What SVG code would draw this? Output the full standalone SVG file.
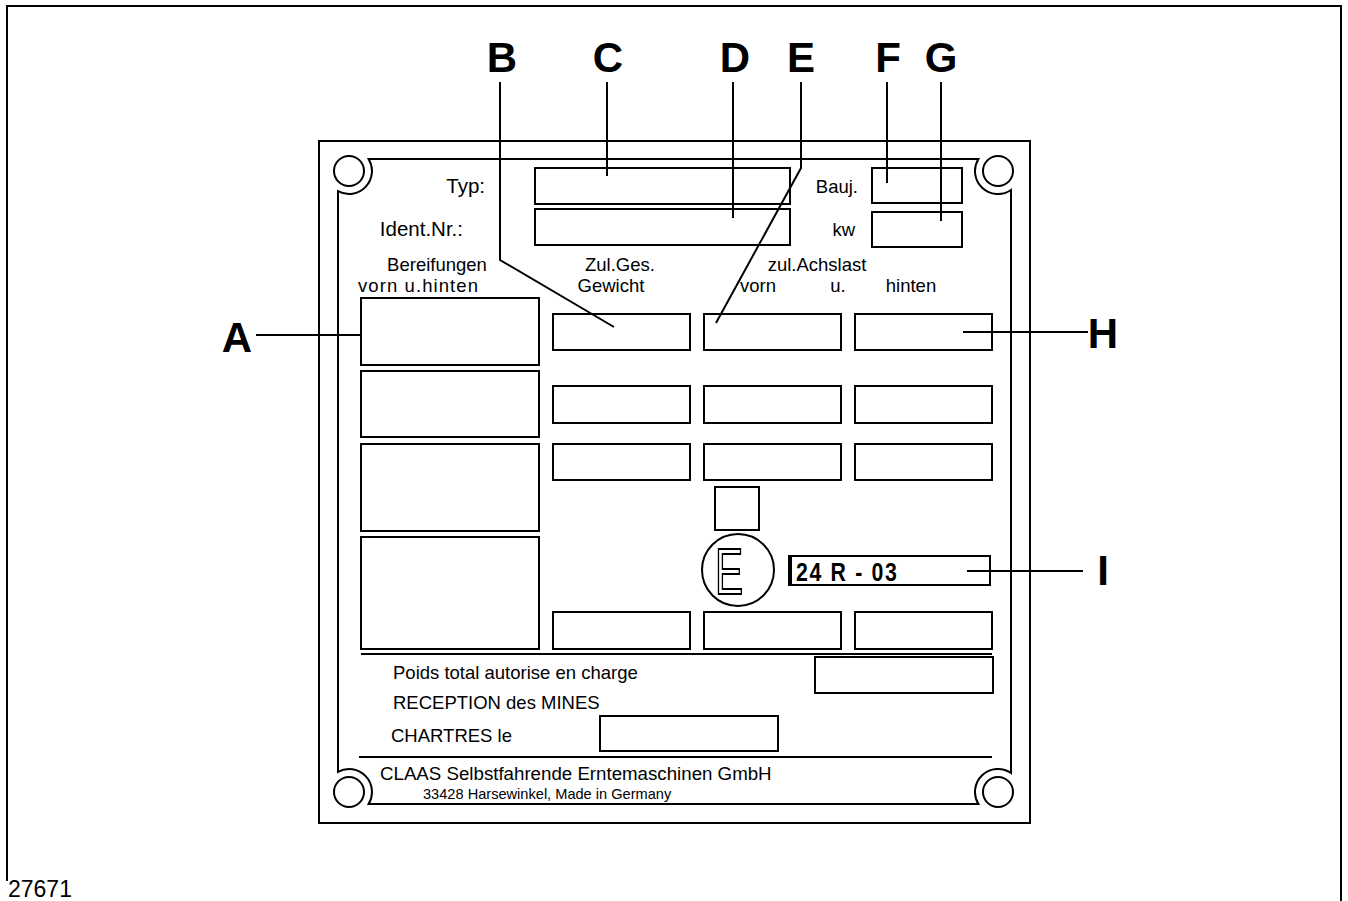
<svg xmlns="http://www.w3.org/2000/svg" width="1348" height="901" viewBox="0 0 1348 901">
<style>
.ln{fill:none;stroke:#000;stroke-width:2}
.bx{fill:none;stroke:#000;stroke-width:2}
.t{font-family:"Liberation Sans",Arial,sans-serif;font-size:18.5px;fill:#000}
.big{font-family:"Liberation Sans",Arial,sans-serif;font-size:42px;font-weight:bold;fill:#000;text-anchor:middle}
</style>
<rect width="1348" height="901" fill="#fff"/>
<path class="ln" d="M7,881 V6 H1341 V901"/>
<g id="plate">
<rect class="bx" x="319" y="141" width="711" height="682"/>
<path class="ln" d="M368.6,159 H978.4 A23,23 0 0 0 1011,190 V773 A23,23 0 0 0 978.4,804 H368.6 A23,23 0 0 0 338,771.8 V191.2 A23,23 0 0 0 368.6,159 Z"/>
<circle class="ln" cx="349" cy="171" r="15"/>
<circle class="ln" cx="998" cy="171" r="15"/>
<circle class="ln" cx="349" cy="792" r="15"/>
<circle class="ln" cx="998" cy="792" r="15"/>
<line class="ln" x1="361" y1="654" x2="992" y2="654"/>
<line class="ln" x1="359" y1="757" x2="992" y2="757"/>
</g>
<g id="header">
<text class="t" x="485" y="193" text-anchor="end" style="font-size:20.5px">Typ:</text>
<text class="t" x="463" y="236" text-anchor="end" style="font-size:20.5px">Ident.Nr.:</text>
<rect class="bx" x="535" y="168" width="255" height="36"/>
<rect class="bx" x="535" y="209" width="255" height="36"/>
<text class="t" x="858" y="193" text-anchor="end">Bauj.</text>
<text class="t" x="855" y="236" text-anchor="end">kw</text>
<rect class="bx" x="872" y="168" width="90" height="35"/>
<rect class="bx" x="872" y="212" width="90" height="35"/>
</g>
<g id="columns">
<text class="t" x="437" y="271" text-anchor="middle">Bereifungen</text>
<text class="t" x="358" y="292" textLength="120" lengthAdjust="spacing">vorn u.hinten</text>
<text class="t" x="620" y="271" text-anchor="middle">Zul.Ges.</text>
<text class="t" x="611" y="292" text-anchor="middle">Gewicht</text>
<text class="t" x="817" y="271" text-anchor="middle">zul.Achslast</text>
<text class="t" x="758" y="292" text-anchor="middle">vorn</text>
<text class="t" x="838" y="292" text-anchor="middle">u.</text>
<text class="t" x="911" y="292" text-anchor="middle">hinten</text>
</g>
<g id="grid">
<rect class="bx" x="361" y="298" width="178" height="67"/>
<rect class="bx" x="361" y="371" width="178" height="66"/>
<rect class="bx" x="361" y="444" width="178" height="87"/>
<rect class="bx" x="361" y="537" width="178" height="112"/>
<rect class="bx" x="553" y="314" width="137" height="36"/>
<rect class="bx" x="704" y="314" width="137" height="36"/>
<rect class="bx" x="855" y="314" width="137" height="36"/>
<rect class="bx" x="553" y="386" width="137" height="37"/>
<rect class="bx" x="704" y="386" width="137" height="37"/>
<rect class="bx" x="855" y="386" width="137" height="37"/>
<rect class="bx" x="553" y="444" width="137" height="36"/>
<rect class="bx" x="704" y="444" width="137" height="36"/>
<rect class="bx" x="855" y="444" width="137" height="36"/>
<rect class="bx" x="553" y="612" width="137" height="37"/>
<rect class="bx" x="704" y="612" width="137" height="37"/>
<rect class="bx" x="855" y="612" width="137" height="37"/>
<rect class="bx" x="715" y="487" width="44" height="43"/>
</g>
<g id="approval">
<circle class="ln" cx="738" cy="570" r="36"/>
<text x="729" y="594" text-anchor="middle" font-family="Liberation Sans, Arial, sans-serif" font-size="64" fill="none" stroke="#000" stroke-width="2" transform="translate(729 0) scale(0.66 1) translate(-729 0)">E</text>
<rect class="bx" x="789" y="556" width="201" height="29"/>
<line x1="791" y1="557" x2="791" y2="584" stroke="#000" stroke-width="2"/>
<text x="796" y="581" font-family="Liberation Sans, Arial, sans-serif" font-size="26" font-weight="bold" fill="#000" letter-spacing="2" transform="translate(796 0) scale(0.82 1) translate(-796 0)">24 R - 03</text>
</g>
<g id="footer">
<text class="t" x="393" y="679">Poids total autorise en charge</text>
<rect class="bx" x="815" y="657" width="178" height="36"/>
<text class="t" x="393" y="709">RECEPTION des MINES</text>
<text class="t" x="391" y="742">CHARTRES le</text>
<rect class="bx" x="600" y="716" width="178" height="35"/>
<text class="t" x="380" y="780" style="font-size:18.7px">CLAAS Selbstfahrende Erntemaschinen GmbH</text>
<text class="t" x="423" y="799" style="font-size:14.6px">33428 Harsewinkel, Made in Germany</text>
</g>
<g id="connectors" class="ln">
<polyline points="500,82 500,260 614,327"/>
<line x1="607" y1="82" x2="607" y2="176"/>
<line x1="733" y1="82" x2="733" y2="218"/>
<polyline points="801,82 801,168 716,323"/>
<line x1="887" y1="82" x2="887" y2="183"/>
<line x1="941" y1="82" x2="941" y2="221"/>
<line x1="256" y1="335" x2="362" y2="335"/>
<line x1="963" y1="332" x2="1088" y2="332"/>
<line x1="967" y1="571" x2="1083" y2="571"/>
</g>
<g id="labels">
<text class="big" x="502" y="72">B</text>
<text class="big" x="608" y="72">C</text>
<text class="big" x="735" y="72">D</text>
<text class="big" x="801" y="72">E</text>
<text class="big" x="888" y="72">F</text>
<text class="big" x="941" y="72">G</text>
<text class="big" x="237" y="352">A</text>
<text class="big" x="1103" y="348">H</text>
<text class="big" x="1103" y="585">I</text>
</g>
<text x="8" y="897" font-family="Liberation Sans, Arial, sans-serif" font-size="23" fill="#000">27671</text>
</svg>
